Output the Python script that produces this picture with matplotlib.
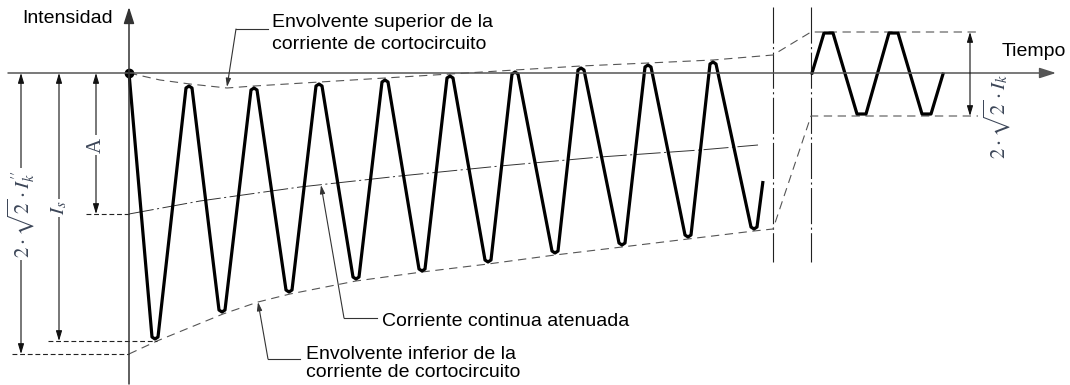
import matplotlib.pyplot as plt
import numpy as np

plt.rcParams['font.family'] = ['Liberation Sans', 'DejaVu Sans']
plt.rcParams['mathtext.fontset'] = 'stix'
plt.rcParams['lines.scale_dashes'] = False

# values, in pixel units of the 1070x385 drawing
start = (129, 73)
trough_x = [155, 222, 289, 356, 422, 488, 555, 622, 688, 754]
trough_y = [339, 312, 292, 279, 271, 262, 253, 245, 237, 229]
peak_x = [189, 254, 319, 385, 450, 515, 581, 648, 713]
peak_y = [86, 88, 84, 80, 76, 72, 68, 65, 62]
end = (763, 181)

steady_x = [812, 824, 833, 857, 866, 889, 898, 922, 931, 943]
steady_y = [73, 33, 33, 114, 114, 33, 33, 114, 114, 74]

up_env_x = [129, 160, 190, 227, 254, 320, 385, 450, 515, 581, 648, 713, 773, 811, 978]
up_env_y = [73, 80, 84, 88, 86, 82, 78, 74, 70, 66, 63, 60, 55, 32, 32]
lo_env_x = [129, 157, 223, 258, 290, 356, 422, 488, 555, 622, 688, 754, 773, 811, 978]
lo_env_y = [354, 341, 314, 302, 294, 281, 272, 264, 255, 247, 239, 231, 229, 116, 116]

dc_x = [129, 200, 300, 400, 500, 600, 700, 758]
dc_y = [214, 201, 187, 176, 166, 157, 150, 145]

ref_y = [214, 341, 354]
ref_x0 = [86, 48, 12]
ref_x1 = [129, 157, 129]

dim_x = [21, 59, 96]
dim_end = [354, 341, 214]
dim_lab = [r"$2\cdot\sqrt{2}\cdot I_k^{\prime\prime}$", r"$I_s$", "A"]
dim_lab_y = [214, 208, 145]

break_x = [773, 811]

fig = plt.figure(figsize=(10.7, 3.85), dpi=100)
ax = fig.add_axes([0, 0, 1, 1])
ax.set_xlim(0, 1070)
ax.set_ylim(385, 0)
ax.axis('off')

axis_col = '#555555'
dash_col = '#555555'
lab_col = '#3c4658'

# axes
ax.annotate('', xy=(1056, 73), xytext=(8, 73),
            arrowprops=dict(arrowstyle='-|>,head_length=1.0,head_width=0.32', lw=1.1,
                            color=axis_col, shrinkA=0, shrinkB=0))
ax.annotate('', xy=(129, 7), xytext=(129, 384),
            arrowprops=dict(arrowstyle='-|>,head_length=1.0,head_width=0.32', lw=1.1,
                            color='#333333', shrinkA=0, shrinkB=0))

# break lines
for bx in break_x:
    ax.plot([bx, bx], [7, 262], color='#222222', lw=0.8, dashes=(26, 2.5, 1.5, 2.5))

# envelopes and dc component
ax.plot(up_env_x, up_env_y, color=dash_col, lw=0.8, dashes=(6, 4))
ax.plot(lo_env_x, lo_env_y, color=dash_col, lw=0.8, dashes=(6, 4))
ax.plot(dc_x, dc_y, color='#333333', lw=0.7, dashes=(18, 2.5, 1.5, 2.5))

# short-circuit current: each extremum gets a small rounded cap
half, drop = 3.0, 2.0
wx, wy = [start[0]], [start[1]]
for i in range(len(trough_x)):
    wx += [trough_x[i] - half, trough_x[i], trough_x[i] + half]
    wy += [trough_y[i] - drop, trough_y[i], trough_y[i] - drop]
    if i < len(peak_x):
        wx += [peak_x[i] - half, peak_x[i], peak_x[i] + half]
        wy += [peak_y[i] + drop, peak_y[i], peak_y[i] + drop]
wx.append(end[0])
wy.append(end[1])
ax.plot(wx, wy, color='black', lw=2.3, solid_joinstyle='round', solid_capstyle='butt')
ax.plot(steady_x, steady_y, color='black', lw=2.3, solid_joinstyle='round')
ax.plot(*start, 'o', ms=6, color='black')

# reference lines on the left
for y, x0, x1 in zip(ref_y, ref_x0, ref_x1):
    ax.plot([x0, x1], [y, y], color='#222222', lw=0.8, dashes=(3.5, 2))

# dimension arrows
for x, y1, lab, ly in zip(dim_x, dim_end, dim_lab, dim_lab_y):
    ax.annotate('', xy=(x, y1), xytext=(x, 73),
                arrowprops=dict(arrowstyle='<|-|>,head_length=0.6,head_width=0.18', lw=0.8,
                                color='#111111', shrinkA=0, shrinkB=0))
    fam = 'Liberation Serif' if lab == 'A' else None
    ax.text(x, ly, lab, rotation=90, ha='center', va='center', fontsize=15,
            color=lab_col, family=fam,
            bbox=dict(fc='white', ec='none', pad=1.5))
ax.annotate('', xy=(970, 116), xytext=(970, 32),
            arrowprops=dict(arrowstyle='<|-|>,head_length=0.6,head_width=0.18', lw=0.8,
                            color='#111111', shrinkA=0, shrinkB=0))
ax.text(997, 116, r"$2\cdot\sqrt{2}\cdot I_k$", rotation=90, ha='center', va='center',
        fontsize=15, color=lab_col)

# axis titles
fs = 14
ax.text(22, 23, 'Intensidad', fontsize=fs, va='baseline')
ax.text(1002, 56, 'Tiempo', fontsize=fs, va='baseline')

# callouts
lead = dict(color='#333333', lw=0.8)
tip = dict(arrowstyle='-|>,head_length=0.5,head_width=0.15', lw=0.8, color='#333333',
           shrinkA=0, shrinkB=0)

ax.text(272, 27, 'Envolvente superior de la', fontsize=fs, va='baseline')
ax.text(272, 49, 'corriente de cortocircuito', fontsize=fs, va='baseline')
ax.plot([236, 268], [29, 29], **lead)
ax.annotate('', xy=(227, 87), xytext=(236, 29), arrowprops=tip)

ax.text(382, 326, 'Corriente continua atenuada', fontsize=fs, va='baseline')
ax.plot([344, 377], [318, 318], **lead)
ax.annotate('', xy=(321, 185), xytext=(344, 318), arrowprops=tip)

ax.text(306, 359, 'Envolvente inferior de la', fontsize=fs, va='baseline')
ax.text(306, 377, 'corriente de cortocircuito', fontsize=fs, va='baseline')
ax.plot([268, 300], [359, 359], **lead)
ax.annotate('', xy=(258, 302), xytext=(268, 359), arrowprops=tip)

fig.savefig('out.png', dpi=100)
